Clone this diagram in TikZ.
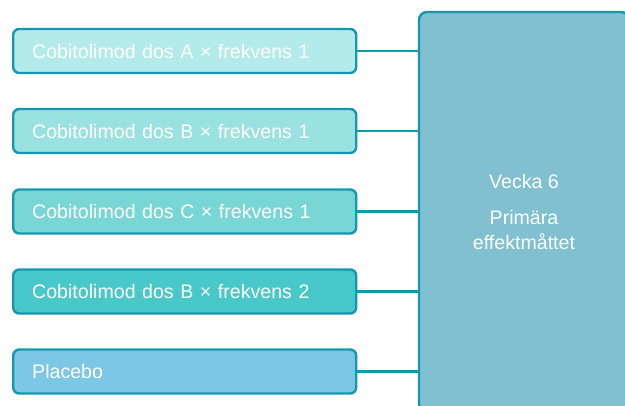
\documentclass[tikz,border=0pt]{standalone}
\usepackage{fontspec}
\setmainfont{Liberation Sans}
\definecolor{edge}{HTML}{1597AD}
\definecolor{fA}{HTML}{B3EBEA}
\definecolor{fB}{HTML}{9AE2E0}
\definecolor{fC}{HTML}{78D7D4}
\definecolor{fD}{HTML}{48C8C9}
\definecolor{fE}{HTML}{7CC7E5}
\definecolor{fR}{HTML}{80C0D0}
\begin{document}
\begin{tikzpicture}[x=1pt,y=-1pt,
  arm/.style={draw=edge, line width=2.4pt, rounded corners=6pt, minimum width=343pt, minimum height=44pt,
    text width=305pt, inner xsep=19pt, align=left, text=white, font=\fontsize{19.6}{23}\selectfont, anchor=west},
  big/.style={draw=edge, line width=2.4pt, rounded corners=8pt, fill=fR, minimum width=210pt, minimum height=400pt,
    text=white, align=center, font=\fontsize{19.6}{25}\selectfont},
  link/.style={draw=edge, line width=2.4pt}]
\useasboundingbox (0,0) rectangle (625,406);
\clip (0,0) rectangle (625,406);
\node[big] (R) at (524,212) {Vecka 6\\[11pt]Primära\\effektmåttet};
\node[arm, fill=fA] (a) at (12,51) {Cobitolimod dos A × frekvens 1};
\node[arm, fill=fB] (b) at (12,131) {Cobitolimod dos B × frekvens 1};
\node[arm, fill=fC] (c) at (12,211.5) {Cobitolimod dos C × frekvens 1};
\node[arm, fill=fD] (d) at (12,291.5) {Cobitolimod dos B × frekvens 2};
\node[arm, fill=fE] (e) at (12,371.5) {Placebo};
\foreach \n in {a,b,c,d,e} \draw[link] (\n.east) -- (R.west |- \n.east);
\end{tikzpicture}
\end{document}
